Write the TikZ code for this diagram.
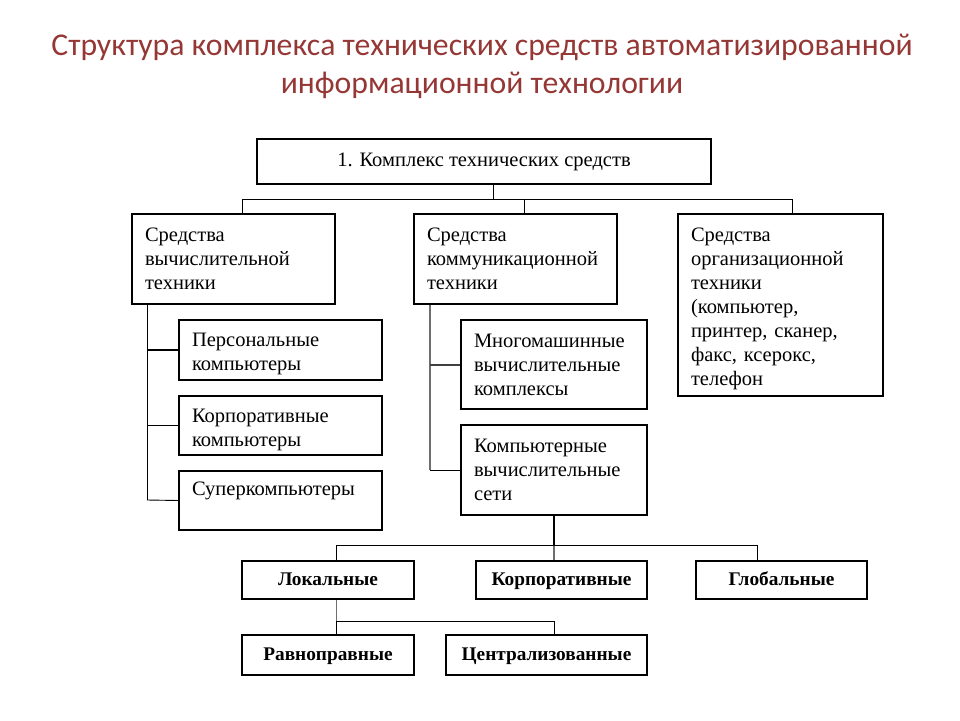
\documentclass[tikz,border=0pt]{standalone}
\usepackage{fontspec}
\setmainfont{Liberation Serif}
\newfontfamily\titlefont{Carlito}
\definecolor{titlered}{RGB}{149,55,53}
\definecolor{lgray}{RGB}{110,110,110}
\newcommand{\dropstrut}{\rule{0pt}{21.5pt}}
\begin{document}
\begin{tikzpicture}[x=1pt,y=-1pt,
  box/.style={draw, line width=1.1pt, inner xsep=13pt, inner ysep=0pt, align=left,
    font=\fontsize{20.5}{24}\selectfont},
  cbox/.style={draw, line width=1.1pt, inner sep=0pt, align=center,
    text height=14pt, text depth=4pt,
    font=\fontsize{19.3}{24}\selectfont\bfseries},
  conn/.style={line width=0.9pt, black},
  gconn/.style={line width=2pt, lgray},
  tconn/.style={line width=2pt, black}]
\useasboundingbox (0,0) rectangle (960,720);
% title
\node[align=center, text=titlered, font=\titlefont\fontsize{31.7}{38}\selectfont] (title) at (482,66)
  {Структура комплекса технических средств автоматизированной\\информационной технологии};
% boxes
\node[cbox, font=\fontsize{20.5}{24}\selectfont, minimum width=454pt, minimum height=45pt] (top) at (484,161.5) {1. Комплекс технических средств};
\node[box, minimum width=203pt, minimum height=90pt, text width=177pt] (b1) at (233.5,259) {Средства\\вычислительной\\техники};
\node[box, minimum width=203pt, minimum height=90pt, text width=177pt] (b2) at (515.5,259) {Средства\\коммуникационной\\техники};
\node[box, minimum width=205pt, minimum height=182pt, text width=179pt] (b3) at (780.5,305) {\rule{0pt}{21pt}Средства\\организационной\\техники\\(компьютер,\\принтер, сканер,\\факс, ксерокс,\\телефон};
\node[box, minimum width=203pt, minimum height=60pt, text width=177pt] (p1) at (280.5,350) {\dropstrut Персональные\\компьютеры};
\node[box, minimum width=203pt, minimum height=59pt, text width=177pt] (p2) at (280.5,425.5) {\dropstrut Корпоративные\\компьютеры};
\node[box, minimum width=203pt, minimum height=59pt, text width=177pt] (p3) at (280.5,500.5) {Суперкомпьютеры\\\mbox{}};
\node[box, minimum width=186pt, minimum height=89pt, text width=160pt] (m1) at (554,364.5) {Многомашинные\\вычислительные\\комплексы};
\node[box, minimum width=186pt, minimum height=90pt, text width=160pt] (m2) at (554,470) {Компьютерные\\вычислительные\\сети};
\node[cbox, minimum width=172pt, minimum height=38pt] (l1) at (328,580) {Локальные};
\node[cbox, minimum width=171pt, minimum height=38pt] (l2) at (561.5,580) {Корпоративные};
\node[cbox, minimum width=171pt, minimum height=38pt] (l3) at (781.5,580) {Глобальные};
\node[cbox, minimum width=172pt, minimum height=40pt] (r1) at (328,655) {Равноправные};
\node[cbox, minimum width=201pt, minimum height=40pt] (r2) at (546.5,655) {Централизованные};
% top bus
\coordinate (t0) at (493,199);
\coordinate (t1) at (242,199);
\coordinate (t2) at (524,199);
\coordinate (t3) at (792,199);
\draw[conn] (top.south -| t0) -- (t0);
\draw[conn] (t1) -- (t3);
\draw[conn] (t1) -- (b1.north -| t1);
\draw[conn] (t2) -- (b2.north -| t2);
\draw[conn] (t3) -- (b3.north -| t3);
% left bus
\coordinate (s1) at (147,304);
\coordinate (s1e) at (147,500);
\draw[conn] (b1.south -| s1) -- (s1e);
\draw[tconn] (s1 |- p1.west) -- (p1.west);
\draw[conn] (s1 |- p2.west) -- (p2.west);
\draw[conn] (s1e) -- (p3.west);
% middle bus
\coordinate (s2) at (430,304);
\coordinate (s2e) at (430,470);
\draw[gconn] (b2.south -| s2) -- (s2e);
\draw[line width=2pt, black!75] (s2 |- m1.west) -- (m1.west);
\draw[conn] (s2e) -- (m2.west);
% networks bus
\coordinate (n0) at (554,545);
\coordinate (n1) at (336,545);
\coordinate (n3) at (757,545);
\draw[tconn] (m2.south -| n0) -- (n0);
\draw[gconn] (n0) -- (l2.north -| n0);
\draw[conn] (n1) -- (n3);
\draw[conn] (n1) -- (l1.north -| n1);
\draw[conn] (n3) -- (l3.north -| n3);
% local bus
\coordinate (k1) at (336,621);
\coordinate (k2) at (554,621);
\draw[conn, lgray] (l1.south -| k1) -- (k1);
\draw[conn] (k1) -- (k2);
\draw[conn] (k1) -- (r1.north -| k1);
\draw[conn] (k2) -- (r2.north -| k2);
\end{tikzpicture}
\end{document}
